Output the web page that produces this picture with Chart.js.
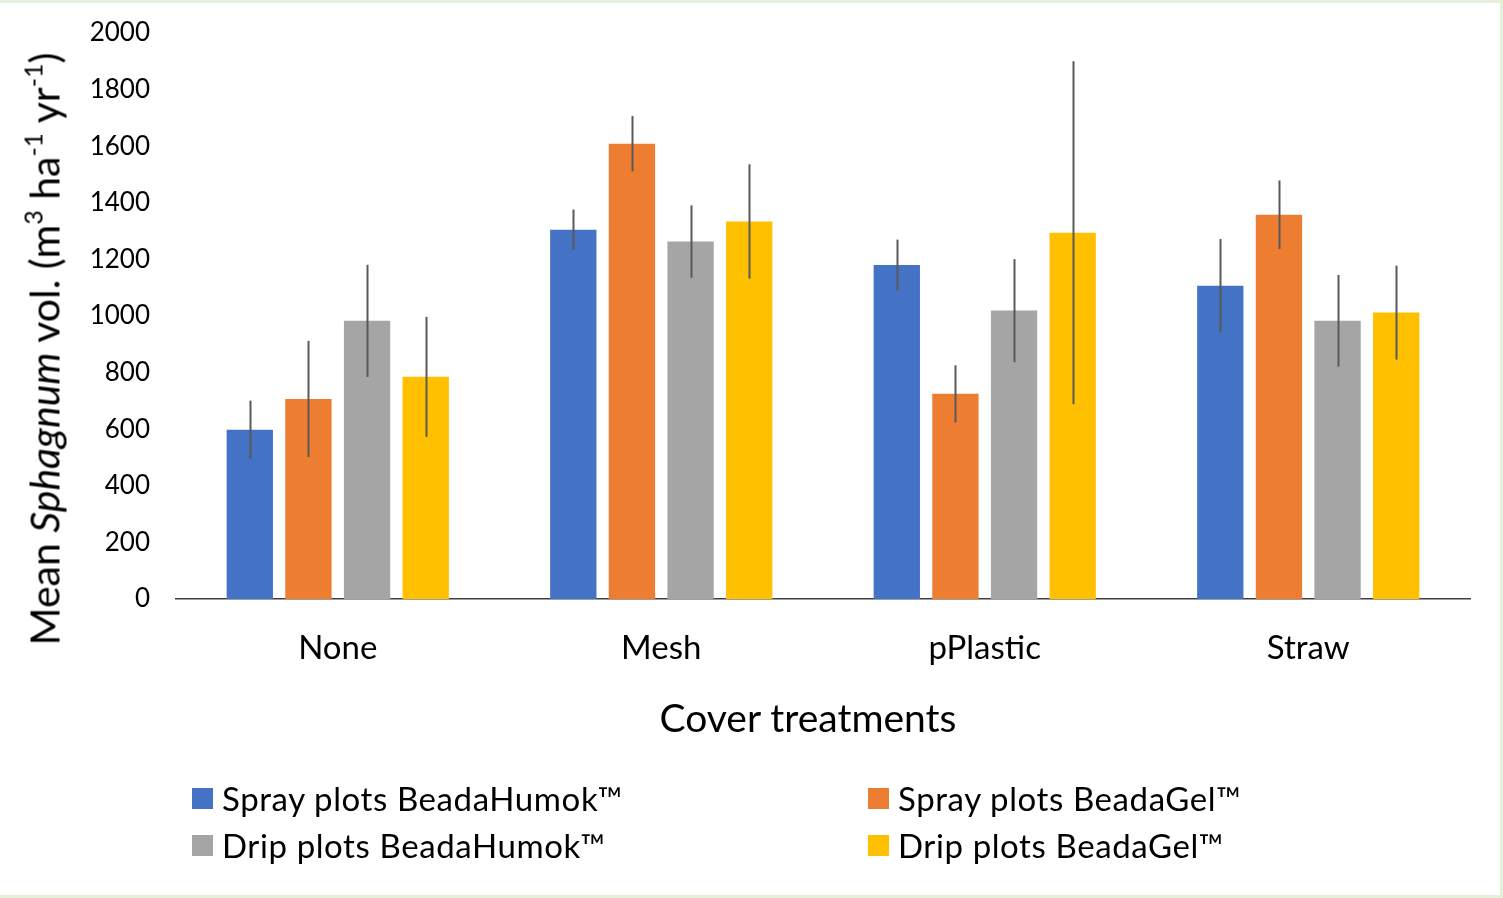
<!DOCTYPE html>
<html>
<head>
<meta charset="utf-8">
<script src="https://cdn.jsdelivr.net/npm/chart.js@4.4.1/dist/chart.umd.min.js"></script>
<style>
  html, body { margin: 0; padding: 0; }
  body { width: 1503px; height: 898px; background: #e4f0d9; position: relative; overflow: hidden; font-family: Lato, "Noto Sans", sans-serif; }
  #frame { position: absolute; left: 0; top: 3px; width: 1500px; height: 892px; background: #fff; }
  #wrap { position: absolute; left: 0; top: 0; width: 1503px; height: 898px; }
  #ytitle { position: absolute; left: 44px; top: 349px; transform: translate(-50%, -50%) rotate(-90deg); white-space: nowrap; font-size: 41px; color: #000; }
  #ytitle sup { font-size: 25px; vertical-align: 17px; line-height: 0; }
  #xtitle { position: absolute; left: 808px; top: 717px; transform: translate(-50%, -50%); font-size: 39px; color: #000; white-space: nowrap; }
  .leg { position: absolute; font-size: 33px; letter-spacing: 0.6px; color: #000; white-space: nowrap; display: flex; align-items: center; }
  .leg span.box { width: 21px; height: 21px; margin-right: 9px; display: inline-block; }
</style>
</head>
<body>
<div id="frame"></div>
<div id="wrap"><canvas id="grafico"></canvas></div>
<div id="ytitle">Mean <i>Sphagnum</i> vol. (m<sup>3</sup> ha<sup>-1</sup> yr<sup>-1</sup>)</div>
<div id="xtitle">Cover treatments</div>
<div id="legenda"></div>
<script>
// Dados
const categorias = ["None", "Mesh", "pPlastic", "Straw"];
const series = ["Spray plots BeadaHumok™", "Spray plots BeadaGel™", "Drip plots BeadaHumok™", "Drip plots BeadaGel™"];
const cores = ["#4472C4", "#ED7D31", "#A5A5A5", "#FFC000"];

const sprayHumok = [598, 1305, 1180, 1107];
const sprayGel = [707, 1609, 725, 1358];
const dripHumok = [983, 1263, 1019, 983];
const dripGel = [785, 1334, 1294, 1012];

const erroSprayHumok = [103, 71, 90, 165];
const erroSprayGel = [205, 98, 101, 121];
const erroDripHumok = [198, 128, 182, 162];
const erroDripGel = [212, 202, 606, 166];

const yTicks = [0, 200, 400, 600, 800, 1000, 1200, 1400, 1600, 1800, 2000];

const valores = [sprayHumok, sprayGel, dripHumok, dripGel];
const erros = [erroSprayHumok, erroSprayGel, erroDripHumok, erroDripGel];

// Barras de erro sem "cap"
const barrasErro = {
    id: "barrasErro",
    afterDatasetsDraw(chart) {
        const ctx = chart.ctx;
        const y = chart.scales.y;
        ctx.save();
        ctx.strokeStyle = "#595959";
        ctx.lineWidth = 2;
        chart.data.datasets.forEach((ds, i) => {
            const meta = chart.getDatasetMeta(i);
            meta.data.forEach((bar, j) => {
                const v = ds.data[j];
                const e = erros[i][j];
                const x = Math.round(bar.x) + 0.5;
                ctx.beginPath();
                ctx.moveTo(x, y.getPixelForValue(v + e));
                ctx.lineTo(x, y.getPixelForValue(v - e));
                ctx.stroke();
            });
        });
        ctx.restore();
    }
};

const canvas = document.getElementById("grafico");
canvas.width = 1503;
canvas.height = 898;

new Chart(canvas, {
    type: "bar",
    data: {
        labels: categorias,
        datasets: series.map((nome, i) => ({
            label: nome,
            data: valores[i],
            backgroundColor: cores[i],
            borderWidth: 0
        }))
    },
    options: {
        responsive: false,
        animation: false,
        layout: { padding: { left: 0, right: 33, top: 33, bottom: 0 } },
        plugins: { legend: { display: false }, tooltip: { enabled: false } },
        datasets: { bar: { categoryPercentage: 0.725, barPercentage: 0.79 } },
        scales: {
            x: {
                grid: { display: false, drawTicks: false },
                border: { display: true, color: "#3f3f3f", width: 1.5 },
                ticks: { color: "#000", font: { family: "Lato", size: 33 }, padding: 30 },
                afterFit(scale) { scale.height = 898 - 599; }
            },
            y: {
                min: 0, max: 2000,
                afterBuildTicks(scale) { scale.ticks = yTicks.map(v => ({ value: v })); },
                grid: { display: false, drawTicks: false },
                border: { display: false },
                ticks: { color: "#000", font: { family: "Lato", size: 26 }, padding: 26, callback: v => String(v) },
                afterFit(scale) {
                    scale.width = 176;
                    scale.paddingTop = 0;
                    scale.paddingBottom = 0;
                }
            }
        }
    },
    plugins: [barrasErro]
});

// Legenda em duas colunas
const legenda = document.getElementById("legenda");
const posicoes = [[192, 799], [868, 799], [192, 846], [868, 846]];
series.forEach((nome, i) => {
    const div = document.createElement("div");
    div.className = "leg";
    div.style.left = posicoes[i][0] + "px";
    div.style.top = (posicoes[i][1] - 21) + "px";
    div.innerHTML = `<span class="box" style="background:${cores[i]}"></span>${nome}`;
    legenda.appendChild(div);
});
</script>
</body>
</html>
